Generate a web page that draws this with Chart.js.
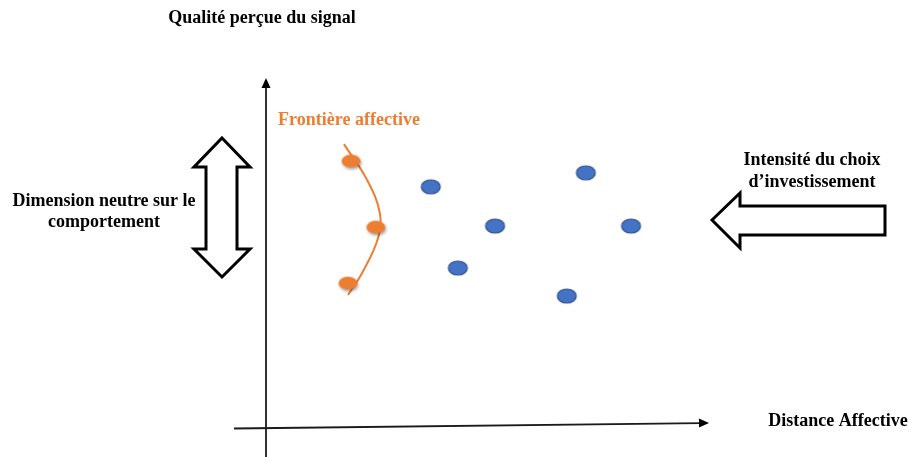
<!DOCTYPE html>
<html>
<head>
<meta charset="utf-8">
<script src="https://cdn.jsdelivr.net/npm/chart.js@4"></script>
<style>
  html, body { margin: 0; padding: 0; background: #fff; }
  #wrap { width: 909px; height: 457px; }
</style>
</head>
<body>
<div id="wrap"><canvas id="diagram" width="909" height="457"></canvas></div>
<script>
// Points on the affective frontier (orange)
const frontierX = [1.92, 2.48, 1.85];
const frontierY = [7.63, 5.74, 4.14];

// The frontier curve itself
const curveX = [1.76, 2.28, 2.57, 2.53, 2.17, 1.85];
const curveY = [8.11, 7.09, 6.14, 5.43, 4.43, 3.80];

// Other signals (blue)
const signalX = [3.72, 7.22, 5.17, 8.24, 4.33, 6.79];
const signalY = [6.89, 7.29, 5.77, 5.77, 4.57, 3.77];

const yAxisTitle = 'Qualité perçue du signal';
const xAxisTitle = 'Distance Affective';
const frontierLabel = 'Frontière affective';
const leftLabel = ['Dimension neutre sur le', 'comportement'];
const rightLabel = ['Intensité du choix', 'd’investissement'];

const ORANGE = '#ED7D31';
const BLUE = '#4472C4';
const BLUE_EDGE = '#2F528F';

function toPoints(xs, ys) {
    return xs.map((x, i) => ({ x: x, y: ys[i] }));
}

// ellipse marker drawn on a small canvas, used as pointStyle
function ellipseSprite(w, h, fill, stroke, shadow) {
    const pad = 4;
    const c = document.createElement('canvas');
    c.width = w + pad * 2;
    c.height = h + pad * 2;
    const g = c.getContext('2d');
    if (shadow) {
        g.shadowColor = 'rgba(0,0,0,0.35)';
        g.shadowBlur = 3;
        g.shadowOffsetX = 1;
        g.shadowOffsetY = 2;
    }
    g.beginPath();
    g.ellipse(c.width / 2, c.height / 2, w / 2, h / 2, 0, 0, Math.PI * 2);
    g.fillStyle = fill;
    g.fill();
    g.shadowColor = 'transparent';
    if (stroke) {
        g.strokeStyle = stroke;
        g.lineWidth = 1.2;
        g.stroke();
    }
    return c;
}

function arrowHead(ctx, x, y, angle, len, half) {
    ctx.save();
    ctx.translate(x, y);
    ctx.rotate(angle);
    ctx.beginPath();
    ctx.moveTo(0, 0);
    ctx.lineTo(-len, -half);
    ctx.lineTo(-len, half);
    ctx.closePath();
    ctx.fill();
    ctx.restore();
}

function outlinePolygon(ctx, pts) {
    ctx.beginPath();
    pts.forEach((p, i) => i ? ctx.lineTo(p[0], p[1]) : ctx.moveTo(p[0], p[1]));
    ctx.closePath();
    ctx.fillStyle = '#fff';
    ctx.fill();
    ctx.lineWidth = 3;
    ctx.lineJoin = 'miter';
    ctx.strokeStyle = '#000';
    ctx.stroke();
}

const diagramDecor = {
    id: 'diagramDecor',
    beforeDatasetsDraw(chart) {
        const ctx = chart.ctx;
        const xs = chart.scales.x, ys = chart.scales.y;
        const ox = xs.getPixelForValue(0);
        const oy = ys.getPixelForValue(0);
        const xEnd = xs.getPixelForValue(10);
        const yEnd = ys.getPixelForValue(10);

        ctx.save();
        ctx.strokeStyle = '#1a1a1a';
        ctx.fillStyle = '#000';
        ctx.lineWidth = 1.8;

        // vertical axis
        ctx.beginPath();
        ctx.moveTo(ox, chart.height);
        ctx.lineTo(ox, yEnd + 8);
        ctx.stroke();
        arrowHead(ctx, ox, yEnd, -Math.PI / 2, 10, 4.5);

        // horizontal axis (slightly tilted in the original)
        const x0 = ox - 32, y0 = oy + 0.5, y1 = oy - 5;
        const ang = Math.atan2(y1 - y0, xEnd - x0);
        ctx.beginPath();
        ctx.moveTo(x0, y0);
        ctx.lineTo(xEnd - 8, y1 + 8 * Math.sin(-ang));
        ctx.stroke();
        arrowHead(ctx, xEnd, y1, ang, 10, 4.5);

        // double arrow on the left
        outlinePolygon(ctx, [
            [222, 138], [250, 167], [237, 167], [237, 249], [250, 249],
            [222, 277], [194, 249], [206, 249], [206, 167], [194, 167]
        ]);

        // arrow pointing left on the right
        outlinePolygon(ctx, [
            [712, 220], [740, 193], [740, 206], [885, 206],
            [885, 235], [740, 235], [740, 248]
        ]);

        // texts
        ctx.font = 'bold 18px "Liberation Serif", "Times New Roman", serif';
        ctx.textAlign = 'center';
        ctx.textBaseline = 'middle';
        ctx.fillStyle = '#000';
        ctx.fillText(yAxisTitle, 262, 18);
        ctx.fillText(xAxisTitle, 838, 421);
        ctx.fillText(leftLabel[0], 104, 201);
        ctx.fillText(leftLabel[1], 104, 222);
        ctx.fillText(rightLabel[0], 812, 160);
        ctx.fillText(rightLabel[1], 812, 182);
        ctx.fillStyle = ORANGE;
        ctx.fillText(frontierLabel, 349, 120);
        ctx.restore();
    }
};

const ctx = document.getElementById('diagram').getContext('2d');
new Chart(ctx, {
    type: 'scatter',
    data: {
        datasets: [
            {
                label: 'Frontière',
                data: toPoints(frontierX, frontierY),
                pointStyle: ellipseSprite(19, 13, ORANGE, null, true)
            },
            {
                label: 'Signaux',
                data: toPoints(signalX, signalY),
                pointStyle: ellipseSprite(19, 14, BLUE, BLUE_EDGE, false)
            },
            {
                label: 'Courbe',
                data: toPoints(curveX, curveY),
                showLine: true,
                borderColor: ORANGE,
                borderWidth: 2,
                tension: 0.4,
                pointRadius: 0
            }
        ]
    },
    options: {
        responsive: false,
        animation: false,
        layout: { padding: { left: 266, right: 200, top: 78, bottom: 29 } },
        plugins: { legend: { display: false }, tooltip: { enabled: false } },
        scales: {
            x: { type: 'linear', min: 0, max: 10, display: false },
            y: { type: 'linear', min: 0, max: 10, display: false }
        }
    },
    plugins: [diagramDecor]
});
</script>
</body>
</html>
